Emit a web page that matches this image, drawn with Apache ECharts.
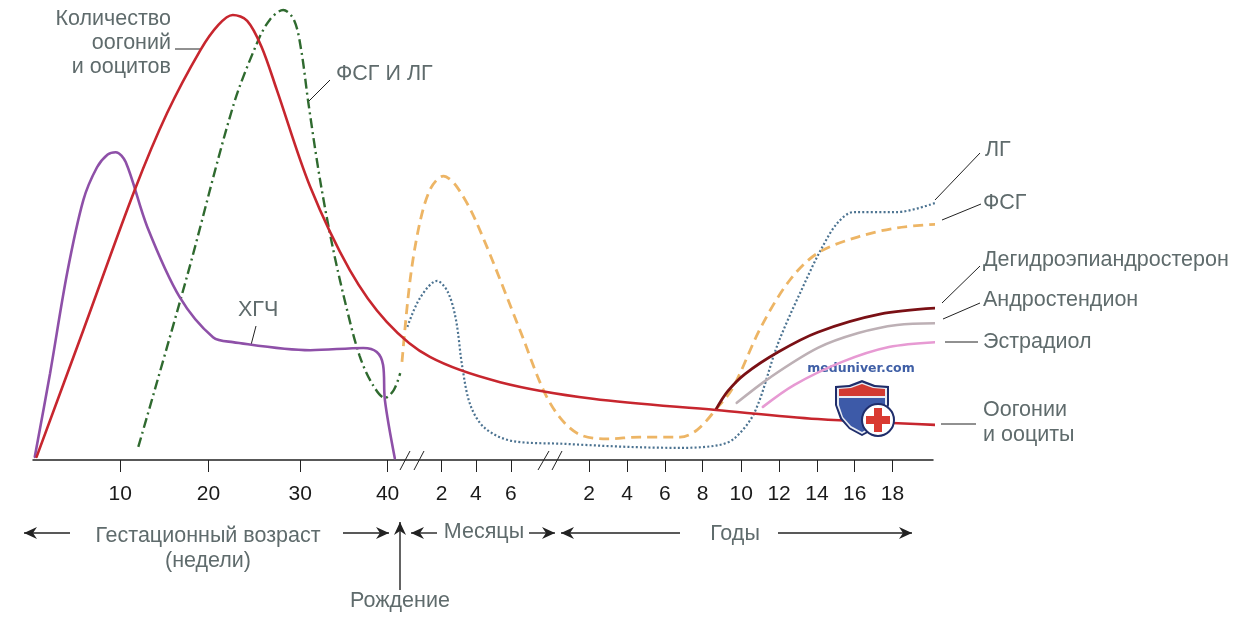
<!DOCTYPE html>
<html><head><meta charset="utf-8">
<style>html,body{margin:0;padding:0;background:#fff}#c{width:1237px;height:624px}</style>
<script src="https://cdn.jsdelivr.net/npm/echarts@6/dist/echarts.min.js"></script>
</head><body><div id="c"></div>
<script>
// x: position along the drawn age axis (0–100), y: relative level (0–100)
const tickPositions=[9.7,19.5,29.7,39.4,45.4,49.2,53.1,61.8,66,70.2,74.4,78.7,82.9,87.1,91.3,95.5];
const tickLabels=['10','20','30','40','2','4','6','2','4','6','8','10','12','14','16','18'];
const germCells=[[0.4,0.7],[5.6,28.9],[11.3,60],[14.9,77.1],[18.6,91.1],[20.6,96.7],[22.2,98.9],[23.8,97.6],[25.4,91.8],[27.1,82.2],[30.8,60.7],[35.2,42.2],[39.3,30.7],[44.1,22.9],[51.9,17.3],[62.2,13.6],[75.9,11.1],[87.2,9.1],[100.2,7.8]];
const hcg=[[0.2,0.7],[1.9,19.3],[3.8,41.6],[5.6,57.8],[7.1,65],[8.3,67.9],[9.2,68.4],[10.3,66.2],[12.7,51.8],[16.3,36.2],[20,27.3],[22.2,26.2],[30.8,24.4],[36.7,24.9],[38.2,24],[38.9,21.1],[39.1,13.3],[40.2,0.4]];
const fetalGonadotropins=[[11.7,2.9],[17.1,40.7],[22.2,78.4],[24.9,92.7],[26.3,97.8],[27.8,100],[29,97.8],[29.8,91.1],[30.6,79.3],[31.9,62.2],[33.3,47.3],[34.9,33.3],[36.3,23.1],[37.7,16.9],[39.1,13.8],[40.1,15.6],[40.8,19.3]];
const fsh=[[41,21.8],[41.9,40],[43,52.9],[44.2,60.4],[45.6,63.1],[47.1,60.7],[49.3,52.7],[54.1,28.9],[56.7,15.6],[58.6,9.3],[60.8,5.6],[63.8,4.7],[67.4,5.1],[71.9,5.1],[73.8,6.7],[75.9,11.3],[77.8,16.2],[80.9,29.6],[84.1,40],[87.2,46],[91.7,49.6],[96,51.6],[100.4,52.4]];
const lh=[[41.6,29.6],[43,36],[44.9,39.8],[46.1,37.3],[47,31.1],[47.7,20.7],[48.6,12.2],[50.2,7.1],[53.3,4.2],[58.9,3.6],[66.3,2.9],[71.9,2.7],[76.2,3.3],[78,4.9],[80.2,10.7],[82.8,26],[85.9,40],[87.7,47.3],[89.4,52.7],[91.2,55.1],[96,55.1],[100.2,57.1]];
const dhea=[[75.9,11.3],[77.2,15.3],[79.1,19.1],[82.8,24],[87.2,28.4],[94.1,32.4],[100.8,33.8]];
const androstenedione=[[78.2,12.7],[81.8,18.2],[87.2,24.9],[91.7,28.2],[96.0,30.0],[100.7,30.4]];
const estradiol=[[81.1,11.8],[84.6,16.7],[89.9,21.8],[95.1,25.1],[100.4,26.2]];

const ink='#222222', txt='#5f6b6c';
const mk=(name,data,color,width,type,z)=>({name,type:'line',data,smooth:0.33,symbol:'none',clip:false,z,
  lineStyle:{color,width,type,cap:type==='solid'?'round':'butt'},animation:false,silent:true});

const g=[];
const seg=(a,b,c,d,col,w)=>g.push({type:'line',shape:{x1:a,y1:b,x2:c,y2:d},style:{stroke:col||ink,lineWidth:w||1}});
[[175,49,200,49],[330,80,308,102],[256,326,251,345],[980,153,935,200],[981,204,942,220],[980,266,942,303],[980,303,943,319],[945,342,978,342],[941,424,976,424],
 [400,470,410,451],[414,470,424,451],[538,470,549,451],[552,470,562,451]].forEach(s=>seg(...s));
const text=(t,x,y,align,size,fill,extra)=>g.push({type:'text',x,y,style:Object.assign({text:t,fill:fill||txt,font:(size||21.5)+'px "Liberation Sans"',align:align||'left',verticalAlign:'middle'},extra||{})});
text('Количество',171,19,'right');text('оогоний',171,43,'right');text('и ооцитов',171,67,'right');
text('ФСГ И ЛГ',336,74);text('ХГЧ',238,310);text('ЛГ',985,150);text('ФСГ',983,203);
text('Дегидроэпиандростерон',983,260);text('Андростендион',983,300);text('Эстрадиол',983,342);
text('Оогонии',983,410);text('и ооциты',983,435);
text('Гестационный возраст',208,536,'center');text('(недели)',208,561,'center');
text('Месяцы',484,532,'center');text('Годы',735,534,'center');text('Рождение',400,601,'center');
// arrows: tail -> head
const arrow=(x1,y1,x2,y2)=>{
  seg(x1,y1,x2,y2,ink,1.4);
  const L=Math.hypot(x2-x1,y2-y1),ux=(x2-x1)/L,uy=(y2-y1)/L,nx=-uy,ny=ux;
  g.push({type:'polygon',shape:{points:[[x2,y2],[x2-13*ux+6*nx,y2-13*uy+6*ny],[x2-9*ux,y2-9*uy],[x2-13*ux-6*nx,y2-13*uy-6*ny]]},style:{fill:ink}});
};
arrow(70,533,24,533);arrow(343,533,389,533);arrow(400,590,400,522);
arrow(437,533,411,533);arrow(529,533,555,533);arrow(680,533,561,533);arrow(778,533,912,533);
// watermark
const wm=100;
text('meduniver.com',861,369,'center',13,'#3f5fa6',{font:'bold 12.5px "DejaVu Sans"'});
const shield=(pts,fill)=>g.push({type:'polygon',z:wm,shape:{points:pts},style:{fill}});
shield([[835,386],[849,385],[862,380],[875,385],[889,386],[889,405],[885,420],[875,429],[862,436],[849,429],[840,419],[835,405]],'#1f2d6b');
shield([[837,388],[850,387],[862,382.5],[874,387],[887,388],[887,405],[883,419],[874,427.5],[862,434],[850,427.5],[842,418],[837,405]],'#e8ecf4');
shield([[839,398],[885,398],[885,405],[881,418],[873,426],[862,432],[851,426],[843,417],[839,405]],'#3d5aa8');
g.push({type:'polygon',z:wm,shape:{points:[[839,389],[851,388],[862,384],[873,388],[885,389],[885,396],[839,396]]},style:{fill:'#d23a32'}});
g.push({type:'circle',z:wm,shape:{cx:878,cy:420,r:16},style:{fill:'#ffffff',stroke:'#1f2d6b',lineWidth:2}});
g.push({type:'rect',z:wm+1,shape:{x:874,y:408,width:8,height:24},style:{fill:'#d93a32'}});
g.push({type:'rect',z:wm+1,shape:{x:866,y:416,width:24,height:8},style:{fill:'#d93a32'}});

const chart=echarts.init(document.getElementById('c'),null,{renderer:'canvas'});
chart.setOption({
  animation:false,backgroundColor:'#ffffff',
  grid:{left:33,right:304,top:10,height:450},
  xAxis:{type:'value',min:0,max:100,splitLine:{show:false},
    axisLine:{show:true,onZero:false,lineStyle:{color:ink,width:1.5}},
    axisTick:{show:true,length:12,customValues:tickPositions,lineStyle:{color:ink,width:1}},
    axisLabel:{customValues:tickPositions,margin:24,fontFamily:'Liberation Sans',fontSize:21,color:'#1a1a1a',
      formatter:v=>tickLabels[tickPositions.indexOf(v)]}},
  yAxis:{type:'value',min:0,max:100,show:false,splitLine:{show:false}},
  series:[
    mk('ФСГ и ЛГ',fetalGonadotropins,'#2f6a2f',2.4,[10,4,2,4],3),
    mk('ЛГ',lh,'#4c7391',2.2,[2,2.2],3),
    mk('ФСГ',fsh,'#edb565',2.8,[10,6],4),
    mk('ХГЧ',hcg,'#8e50a8',2.6,'solid',5),
    mk('Андростендион',androstenedione,'#bdb0b5',2.6,'solid',5),
    mk('Эстрадиол',estradiol,'#e79ad3',2.6,'solid',5),
    mk('Дегидроэпиандростерон',dhea,'#7a1015',2.8,'solid',6),
    mk('Оогонии и ооциты',germCells,'#c7262e',2.6,'solid',7)
  ],
  graphic:{elements:g}
});
</script></body></html>
